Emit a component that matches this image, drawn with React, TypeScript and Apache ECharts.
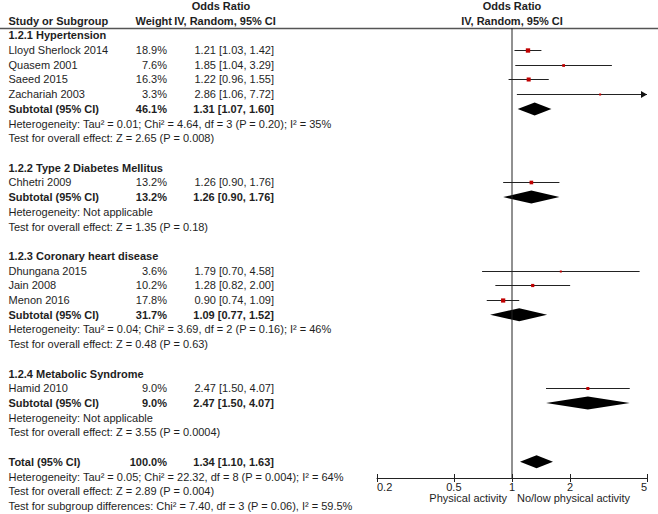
import React, { useEffect, useRef } from "react";
import * as echarts from "echarts";

// ---------- data ----------
const groupTitles = [
  "1.2.1 Hypertension",
  "1.2.2 Type 2 Diabetes Mellitus",
  "1.2.3 Coronary heart disease",
  "1.2.4 Metabolic Syndrome",
];
const studyNames = [
  "Lloyd Sherlock 2014",
  "Quasem 2001",
  "Saeed 2015",
  "Zachariah 2003",
  "Chhetri 2009",
  "Dhungana 2015",
  "Jain 2008",
  "Menon 2016",
  "Hamid 2010",
];
const studyGroups = [0, 0, 0, 0, 1, 2, 2, 2, 3];
const studyWeights = [18.9, 7.6, 16.3, 3.3, 13.2, 3.6, 10.2, 17.8, 9.0];
const studyOR = [1.21, 1.85, 1.22, 2.86, 1.26, 1.79, 1.28, 0.9, 2.47];
const studyLower = [1.03, 1.04, 0.96, 1.06, 0.9, 0.7, 0.82, 0.74, 1.5];
const studyUpper = [1.42, 3.29, 1.55, 7.72, 1.76, 4.58, 2.0, 1.09, 4.07];

const subtotalWeights = [46.1, 13.2, 31.7, 9.0];
const subtotalOR = [1.31, 1.26, 1.09, 2.47];
const subtotalLower = [1.07, 0.9, 0.77, 1.5];
const subtotalUpper = [1.6, 1.76, 1.52, 4.07];
const heterogeneityTexts = [
  "Heterogeneity: Tau² = 0.01; Chi² = 4.64, df = 3 (P = 0.20); I² = 35%",
  "Heterogeneity: Not applicable",
  "Heterogeneity: Tau² = 0.04; Chi² = 3.69, df = 2 (P = 0.16); I² = 46%",
  "Heterogeneity: Not applicable",
];
const overallEffectTexts = [
  "Test for overall effect: Z = 2.65 (P = 0.008)",
  "Test for overall effect: Z = 1.35 (P = 0.18)",
  "Test for overall effect: Z = 0.48 (P = 0.63)",
  "Test for overall effect: Z = 3.55 (P = 0.0004)",
];

const totalWeight = 100.0;
const totalOR = 1.34;
const totalLower = 1.1;
const totalUpper = 1.63;
const totalTexts = [
  "Heterogeneity: Tau² = 0.05; Chi² = 22.32, df = 8 (P = 0.004); I² = 64%",
  "Test for overall effect: Z = 2.89 (P = 0.004)",
  "Test for subgroup differences: Chi² = 7.40, df = 3 (P = 0.06), I² = 59.5%",
];

const tickValues = [0.2, 0.5, 1, 2, 5];
const favoursLeft = "Physical activity";
const favoursRight = "No/low physical activity";

// ---------- layout ----------
const W = 658;
const H = 514;
const X_MIN = 0.2;
const X_MAX = 5;
const ROW_MIN = -0.5;
const ROW_MAX = 30.1;
const FAMILY = "Liberation Sans";
const TEXT_COLOR = "#1e1e1e";

const fmtCI = (o: number, l: number, u: number) =>
  `${o.toFixed(2)} [${l.toFixed(2)}, ${u.toFixed(2)}]`;
const fmtW = (w: number) => `${w.toFixed(1)}%`;

type TextRow = { row: number; bold: boolean; name: string; weight?: string; ci?: string };

function buildRows() {
  const textRows: TextRow[] = [];
  const studyData: number[][] = [];
  const diamondData: number[][] = [];
  let r = 0;
  groupTitles.forEach((title, gi) => {
    textRows.push({ row: r, bold: true, name: title });
    r++;
    studyNames.forEach((name, i) => {
      if (studyGroups[i] !== gi) return;
      textRows.push({
        row: r,
        bold: false,
        name,
        weight: fmtW(studyWeights[i]),
        ci: fmtCI(studyOR[i], studyLower[i], studyUpper[i]),
      });
      studyData.push([studyOR[i], r, studyLower[i], studyUpper[i], studyWeights[i]]);
      r++;
    });
    textRows.push({
      row: r,
      bold: true,
      name: "Subtotal (95% CI)",
      weight: fmtW(subtotalWeights[gi]),
      ci: fmtCI(subtotalOR[gi], subtotalLower[gi], subtotalUpper[gi]),
    });
    diamondData.push([subtotalOR[gi], r, subtotalLower[gi], subtotalUpper[gi]]);
    r++;
    textRows.push({ row: r, bold: false, name: heterogeneityTexts[gi] });
    r++;
    textRows.push({ row: r, bold: false, name: overallEffectTexts[gi] });
    r++;
    r++; // blank
  });
  textRows.push({
    row: r,
    bold: true,
    name: "Total (95% CI)",
    weight: fmtW(totalWeight),
    ci: fmtCI(totalOR, totalLower, totalUpper),
  });
  diamondData.push([totalOR, r, totalLower, totalUpper]);
  r++;
  totalTexts.forEach((t) => {
    textRows.push({ row: r, bold: false, name: t });
    r++;
  });
  return { textRows, studyData, diamondData };
}

export default function App() {
  const ref = useRef<HTMLDivElement>(null);

  useEffect(() => {
    if (!ref.current) return;
    const chart = echarts.init(ref.current, undefined, { renderer: "svg", width: W, height: H });
    const { textRows, studyData, diamondData } = buildRows();

    const labelFmt = (v: number) => String(parseFloat(Number(v).toPrecision(3)));

    chart.setOption({
      animation: false,
      backgroundColor: "#ffffff",
      grid: { left: 377, right: 11, top: 28, bottom: 36, containLabel: false },
      xAxis: [
        {
          type: "log",
          logBase: 10,
          min: X_MIN,
          max: X_MAX,
          position: "bottom",
          axisLine: { show: true, onZero: false, lineStyle: { color: "#222", width: 1 } },
          axisTick: { show: true, inside: false, length: 4, customValues: tickValues, lineStyle: { color: "#222" } },
          axisLabel: {
            show: true,
            customValues: tickValues,
            formatter: labelFmt,
            margin: 3,
            color: "#222",
            fontSize: 11,
            fontFamily: FAMILY,
            alignMinLabel: "left",
            alignMaxLabel: "right",
          },
          splitLine: { show: false },
        },
        {
          type: "log",
          logBase: 10,
          min: X_MIN,
          max: X_MAX,
          position: "bottom",
          axisLine: { show: false, onZero: false },
          axisTick: { show: true, inside: true, length: 4, customValues: tickValues, lineStyle: { color: "#222" } },
          axisLabel: { show: false },
          splitLine: { show: false },
        },
      ],
      yAxis: { type: "value", min: ROW_MIN, max: ROW_MAX, inverse: true, show: false },
      series: [
        {
          type: "line",
          xAxisIndex: 0,
          yAxisIndex: 0,
          data: [
            [1, ROW_MIN],
            [1, ROW_MAX],
          ],
          symbol: "none",
          lineStyle: { color: "#222", width: 1 },
          silent: true,
        },
        {
          type: "custom",
          xAxisIndex: 0,
          yAxisIndex: 0,
          data: studyData,
          encode: { x: 0, y: 1 },
          clip: false,
          renderItem: (params: any, api: any) => {
            const o = api.value(0);
            const row = api.value(1);
            const lo = api.value(2);
            const hi = api.value(3);
            const w = api.value(4);
            const pL = api.coord([Math.max(lo, X_MIN), row]);
            const pR = api.coord([Math.min(hi, X_MAX), row]);
            const pC = api.coord([o, row]);
            const y = Math.round(pC[1]) + 0.5;
            const s = Math.max(2, Math.sqrt(w));
            const children: any[] = [
              {
                type: "line",
                shape: { x1: pL[0], y1: y, x2: pR[0], y2: y },
                style: { stroke: "#222", lineWidth: 1 },
              },
              {
                type: "rect",
                shape: { x: pC[0] - s / 2, y: y - s / 2, width: s, height: s },
                style: { fill: "#c00000" },
              },
            ];
            if (hi > X_MAX) {
              children.push({
                type: "polygon",
                shape: {
                  points: [
                    [pR[0], y],
                    [pR[0] - 6, y - 3.5],
                    [pR[0] - 6, y + 3.5],
                  ],
                },
                style: { fill: "#111" },
              });
            }
            return { type: "group", children };
          },
        },
        {
          type: "custom",
          xAxisIndex: 0,
          yAxisIndex: 0,
          data: diamondData,
          encode: { x: 0, y: 1 },
          clip: false,
          renderItem: (params: any, api: any) => {
            const o = api.value(0);
            const row = api.value(1);
            const lo = api.value(2);
            const hi = api.value(3);
            const pL = api.coord([lo, row]);
            const pR = api.coord([hi, row]);
            const pC = api.coord([o, row]);
            const h = 6.5;
            return {
              type: "polygon",
              shape: {
                points: [
                  [pL[0], pC[1]],
                  [pC[0], pC[1] - h],
                  [pR[0], pC[1]],
                  [pC[0], pC[1] + h],
                ],
              },
              style: { fill: "#000" },
            };
          },
        },
      ],
    });

    const rowY = (r: number) => chart.convertToPixel({ yAxisIndex: 0 }, r) as number;
    const xOne = chart.convertToPixel({ xAxisIndex: 0 }, 1) as number;

    const txt = (text: string, x: number, y: number, align: string, bold = false) => ({
      type: "text",
      silent: true,
      style: {
        text,
        x,
        y,
        fill: TEXT_COLOR,
        fontFamily: FAMILY,
        fontSize: 11,
        fontWeight: bold ? "bold" : "normal",
        textAlign: align,
        textVerticalAlign: "middle",
      },
    });

    const COL_NAME = 8.5;
    const COL_WEIGHT = 167;
    const COL_CI = 274;

    const elements: any[] = [
      {
        type: "line",
        silent: true,
        shape: { x1: 0, y1: 28.5, x2: W, y2: 28.5 },
        style: { stroke: "#555", lineWidth: 1.5 },
      },
      txt("Odds Ratio", 221, rowY(-2), "center", true),
      txt("Study or Subgroup", COL_NAME, rowY(-1), "left", true),
      txt("Weight", 172, rowY(-1), "right", true),
      txt("IV, Random, 95% CI", 225, rowY(-1), "center", true),
      txt("Odds Ratio", xOne, rowY(-2), "center", true),
      txt("IV, Random, 95% CI", xOne, rowY(-1), "center", true),
      txt(favoursLeft, xOne - 5, 498, "right"),
      txt(favoursRight, xOne + 5, 498, "left"),
    ];
    textRows.forEach((tr) => {
      const y = rowY(tr.row);
      elements.push(txt(tr.name, COL_NAME, y, "left", tr.bold));
      if (tr.weight) elements.push(txt(tr.weight, COL_WEIGHT, y, "right", tr.bold));
      if (tr.ci) elements.push(txt(tr.ci, COL_CI, y, "right", tr.bold));
    });

    chart.setOption({ graphic: { elements } });

    return () => {
      chart.dispose();
    };
  }, []);

  return (
    <div
      ref={ref}
      style={{ position: "absolute", left: 0, top: 0, width: W, height: H, background: "#fff" }}
    />
  );
}
